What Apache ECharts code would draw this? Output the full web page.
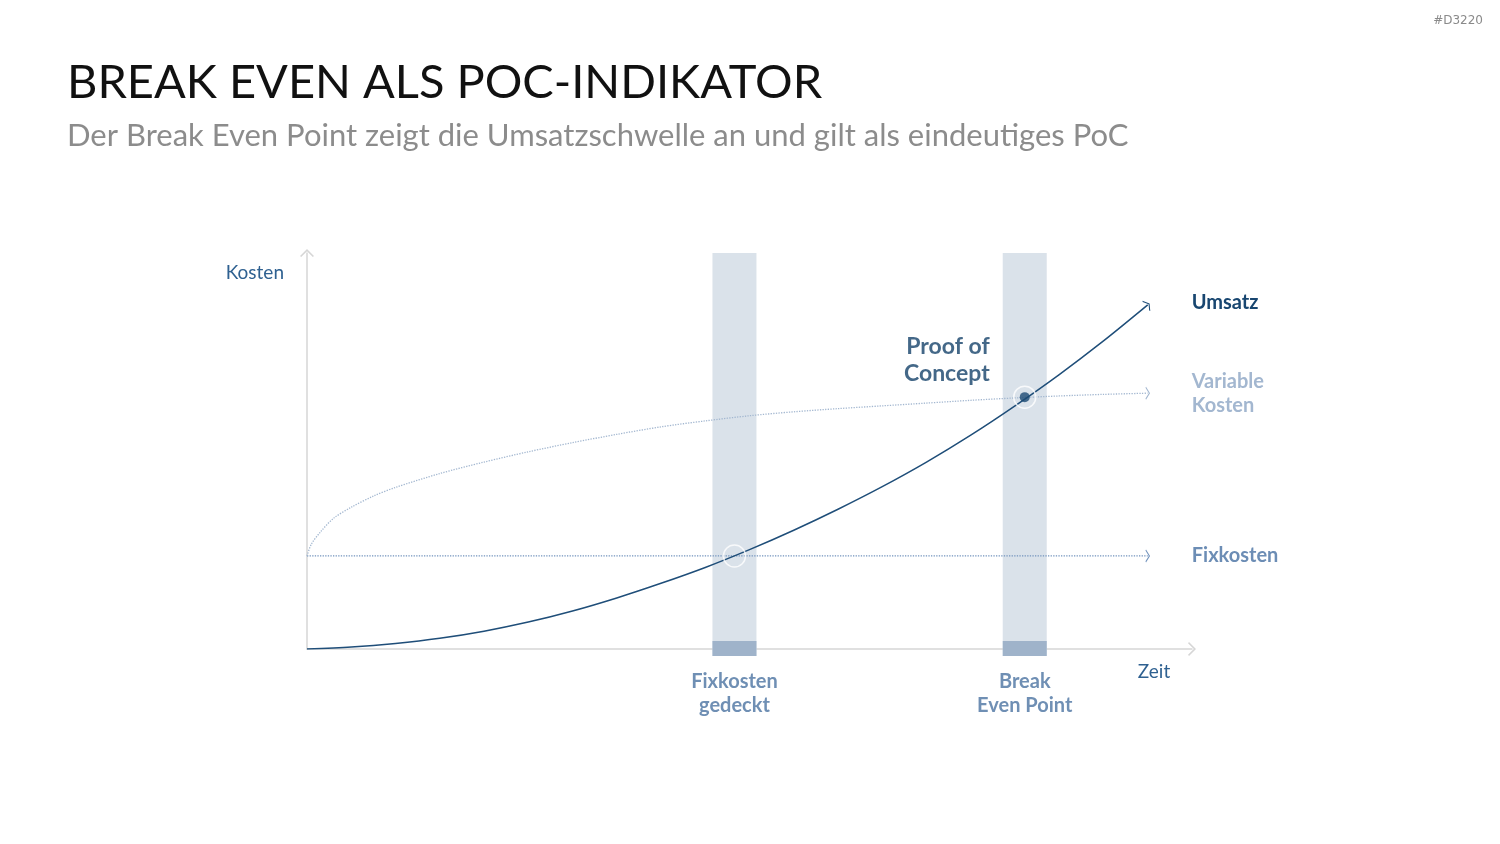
<!DOCTYPE html>
<html>
<head>
<meta charset="utf-8">
<script src="https://cdn.jsdelivr.net/npm/echarts@6/dist/echarts.min.js"></script>
<style>
  html, body { margin: 0; padding: 0; background: #fff; }
  #chart-container { width: 1500px; height: 844px; }
</style>
</head>
<body>
<div id="chart-container"></div>
<script>
var dom = document.getElementById("chart-container");
var myChart = echarts.init(dom, null, { renderer: "canvas" });

// Werte (Zeit 0..100, Kosten 0..100)
var zeitUmsatz = [0, 5, 10, 15, 20, 25, 30, 35, 40, 45, 50, 55, 60, 65, 70, 75, 80, 85, 90, 95];
var umsatz = [0, 0.5, 1.4, 2.7, 4.5, 6.8, 9.6, 12.9, 16.6, 20.6, 25.1, 30.0, 35.3, 41.0, 47.2, 54.0, 61.4, 69.3, 77.8, 86.9];
var zeitVariabel = [0, 0.5, 1.5, 3, 5, 7.5, 10, 15, 20, 25, 30, 35, 40, 45, 50, 55, 60, 65, 70, 75, 80, 85, 90, 95];
var variableKosten = [23.5, 26.5, 29.5, 33.0, 35.8, 38.6, 40.8, 44.3, 47.2, 49.8, 52.1, 54.2, 56.1, 57.6, 58.9, 59.9, 60.7, 61.4, 62.1, 62.8, 63.4, 63.9, 64.3, 64.6];
var zeitFix = [0, 95];
var fixkosten = [23.5, 23.5];
var markerZeit = [48.3, 81.1];
var markerLabels = ["Fixkosten\ngedeckt", "Break\nEven Point"];
var schnittKosten = [23.5, 63.6];

var FONT = "Lato";
var chevron = "path://M0,7 L7,0 L14,7 L12.8,8 L7,2.2 L1.2,8 Z";

function toPoints(xs, ys, arrowRotate, color) {
  return xs.map(function (x, i) {
    var item = { value: [x, ys[i]] };
    if (i === xs.length - 1) {
      item.symbol = chevron;
      item.symbolSize = [13, 8];
      item.symbolRotate = arrowRotate;
      item.symbolKeepAspect = true;
      item.itemStyle = { color: color };
    }
    return item;
  });
}

var option = {
  animation: false,
  title: [
    {
      text: "BREAK EVEN ALS POC-INDIKATOR",
      subtext: "Der Break Even Point zeigt die Umsatzschwelle an und gilt als eindeutiges PoC",
      left: 62,
      top: 54,
      itemGap: 14,
      textStyle: { fontFamily: FONT, fontSize: 47, fontWeight: "normal", color: "#111" },
      subtextStyle: { fontFamily: FONT, fontSize: 31, color: "#8c8c8c" },
    },
    {
      text: "#D3220",
      right: 12,
      top: 10,
      textStyle: { fontFamily: "DejaVu Sans", fontSize: 12, fontWeight: "normal", color: "#8a8a8a" },
    },
  ],
  grid: { left: 307, right: 308, top: 253, bottom: 195 },
  xAxis: {
    type: "value",
    min: 0,
    max: 100,
    name: "Zeit",
    nameLocation: "end",
    nameGap: -38,
    nameTextStyle: {
      fontFamily: FONT, fontSize: 19, color: "#2f6191",
      align: "center", verticalAlign: "top", padding: [13, 0, 0, 0],
    },
    axisLine: {
      show: true,
      symbol: ["none", chevron],
      symbolSize: [14, 8],
      lineStyle: { color: "#d6d6d6", width: 1.5 },
    },
    axisTick: { show: false },
    axisLabel: { show: false },
    splitLine: { show: false },
  },
  yAxis: {
    type: "value",
    min: 0,
    max: 100,
    name: "Kosten",
    nameLocation: "end",
    nameGap: -20,
    nameTextStyle: {
      fontFamily: FONT, fontSize: 19, color: "#2f6191",
      align: "right", verticalAlign: "middle", padding: [0, 23, 0, 0],
    },
    axisLine: {
      show: true,
      symbol: ["none", chevron],
      symbolSize: [14, 8],
      lineStyle: { color: "#d6d6d6", width: 1.5 },
    },
    axisTick: { show: false },
    axisLabel: { show: false },
    splitLine: { show: false },
  },
  series: [
    {
      name: "Marker",
      type: "custom",
      z: 1,
      clip: false,
      data: markerZeit.map(function (x, i) { return [x, i]; }),
      renderItem: function (params, api) {
        var top = api.coord([api.value(0), 100]);
        var base = api.coord([api.value(0), 0]);
        var w = 44;
        return {
          type: "group",
          children: [
            {
              type: "rect",
              shape: { x: top[0] - w / 2, y: top[1], width: w, height: base[1] - top[1] + 7 },
              style: { fill: "#dae2ea" },
            },
            {
              type: "rect",
              shape: { x: top[0] - w / 2, y: base[1] - 8, width: w, height: 15 },
              style: { fill: "#9fb3ca" },
            },
            {
              type: "text",
              x: base[0],
              y: base[1] + 21,
              style: {
                text: markerLabels[api.value(1)],
                fontFamily: FONT,
                fontSize: 20,
                fontWeight: "bold",
                lineHeight: 24,
                fill: "#6f8fb4",
                align: "center",
                verticalAlign: "top",
              },
            },
          ],
        };
      },
    },
    {
      name: "Fixkosten",
      type: "line",
      z: 2,
      symbol: "none",
      data: toPoints(zeitFix, fixkosten, -90, "#7293bd"),
      lineStyle: { color: "#7293bd", width: 1.3, type: "dotted" },
      endLabel: {
        show: true,
        formatter: "{a}",
        distance: 44,
        fontFamily: FONT,
        fontSize: 20,
        fontWeight: "bold",
        color: "#6c8db5",
      },
    },
    {
      name: "Variable\nKosten",
      type: "line",
      z: 2,
      symbol: "none",
      smooth: 0.3,
      data: toPoints(zeitVariabel, variableKosten, -90, "#a3b7d0"),
      lineStyle: { color: "#a3b7d0", width: 1.3, type: "dotted" },
      endLabel: {
        show: true,
        formatter: "{a}",
        distance: 44,
        fontFamily: FONT,
        fontSize: 20,
        fontWeight: "bold",
        lineHeight: 24,
        color: "#a3b7d0",
      },
    },
    {
      name: "Umsatz",
      type: "line",
      z: 3,
      symbol: "none",
      smooth: 0.3,
      data: toPoints(zeitUmsatz, umsatz, -53, "#1f4e79"),
      lineStyle: { color: "#1f4e79", width: 1.5 },
      endLabel: {
        show: true,
        formatter: "{a}",
        distance: 44,
        offset: [0, -2],
        fontFamily: FONT,
        fontSize: 20,
        fontWeight: "bold",
        color: "#184670",
      },
    },
    {
      name: "Schnittpunkte",
      type: "scatter",
      z: 4,
      symbol: "circle",
      symbolSize: 22,
      data: markerZeit.map(function (x, i) { return [x, schnittKosten[i]]; }),
      itemStyle: { color: "rgba(255,255,255,0)", borderColor: "#ffffff", borderWidth: 1.5 },
      silent: true,
    },
    {
      name: "Proof of Concept",
      type: "scatter",
      z: 5,
      symbol: "circle",
      symbolSize: 10,
      data: [[markerZeit[1], schnittKosten[1]]],
      itemStyle: { color: "#1b4a73" },
      label: {
        show: true,
        position: "left",
        distance: 30,
        offset: [0, -37],
        formatter: "Proof of\nConcept",
        align: "right",
        fontFamily: FONT,
        fontSize: 23,
        fontWeight: "bold",
        lineHeight: 27,
        color: "#15426a",
      },
      silent: true,
    },
  ],
};

myChart.setOption(option);

window.addEventListener("resize", function () {
  myChart.resize();
});
</script>
</body>
</html>
